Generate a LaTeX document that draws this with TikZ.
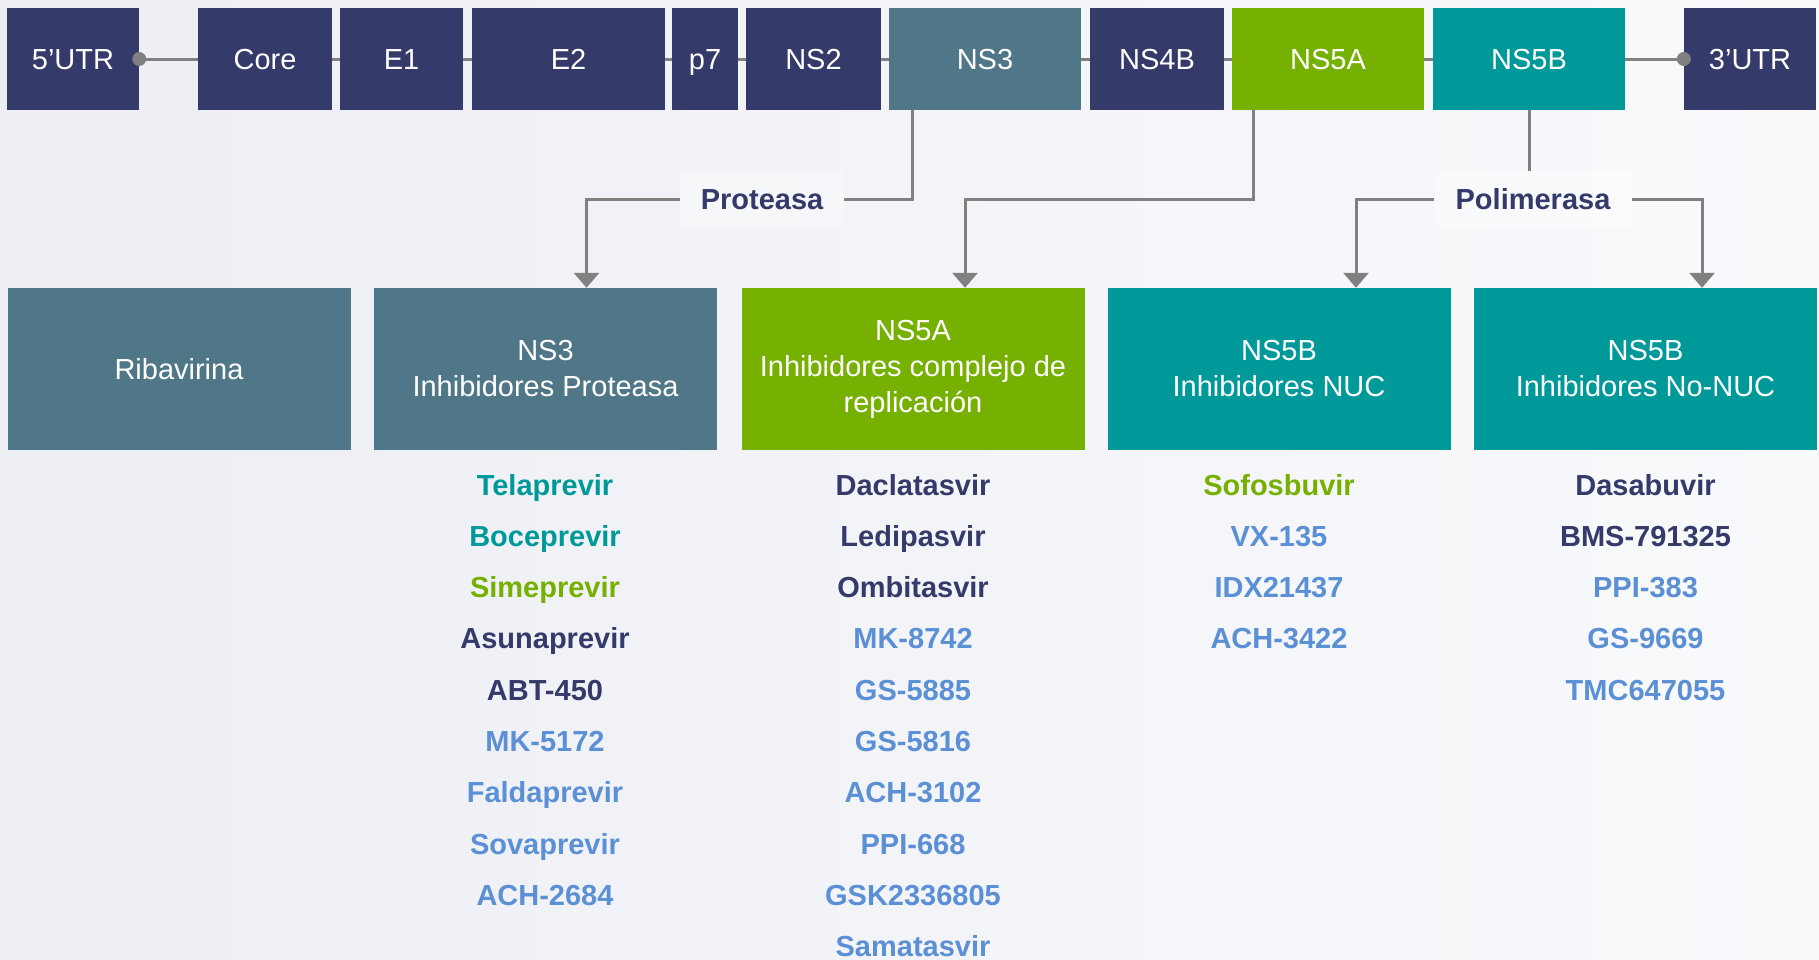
\documentclass[tikz,border=0pt]{standalone}
\usepackage{fontspec}
\setmainfont{Liberation Sans}
\usetikzlibrary{arrows.meta,backgrounds,positioning}
\definecolor{hcvnavy}{HTML}{343A69}
\definecolor{hcvslate}{HTML}{4F7788}
\definecolor{hcvgreen}{HTML}{76B000}
\definecolor{hcvteal}{HTML}{009999}
\definecolor{hcvblue}{HTML}{5B8FD6}
\definecolor{hcvgray}{HTML}{808080}
\definecolor{bgleft}{HTML}{EDEEF4}
\definecolor{bgright}{HTML}{F9FAFC}

\begin{document}
\begin{tikzpicture}[x=1pt, y=-1pt,
  gene/.style={fill=#1, text=white, minimum height=102pt, inner sep=0pt,
    text height=21pt, text depth=0pt, font=\fontsize{29}{35}\selectfont},
  class/.style={fill=#1, text=white, minimum width=343pt, minimum height=162pt,
    inner sep=0pt, align=center, font=\fontsize{29}{36}\selectfont},
  drug/.style={text=#1, anchor=base, inner sep=0pt, font=\fontsize{29}{35}\selectfont\bfseries},
  enzyme/.style={fill=white, fill opacity=0.35, text opacity=1, text=hcvnavy,
    minimum height=56pt, inner sep=0pt, text height=21pt, text depth=0pt,
    font=\fontsize{29}{35}\selectfont\bfseries},
  link/.style={draw=hcvgray, line width=3pt},
  arr/.style={-{Triangle[length=15pt,width=25pt]}, hcvgray}]
  \useasboundingbox (0,0) rectangle (1819,959);
  % genome
  \node[gene=hcvnavy,  minimum width=132pt] (utr5) at (73,59)     {5’UTR};
  \node[gene=hcvnavy,  minimum width=134pt] (core) at (265,59)    {Core};
  \node[gene=hcvnavy,  minimum width=123pt] (e1)   at (401.5,59)  {E1};
  \node[gene=hcvnavy,  minimum width=193pt] (e2)   at (568.5,59)  {E2};
  \node[gene=hcvnavy,  minimum width=66pt]  (p7)   at (705,59)    {p7};
  \node[gene=hcvnavy,  minimum width=135pt] (ns2)  at (813.5,59)  {NS2};
  \node[gene=hcvslate, minimum width=192pt] (ns3)  at (985,59)    {NS3};
  \node[gene=hcvnavy,  minimum width=134pt] (ns4b) at (1157,59)   {NS4B};
  \node[gene=hcvgreen, minimum width=192pt] (ns5a) at (1328,59)   {NS5A};
  \node[gene=hcvteal,  minimum width=192pt] (ns5b) at (1529,59)   {NS5B};
  \node[gene=hcvnavy,  minimum width=132pt] (utr3) at (1750,59)   {3’UTR};

  % drug classes
  \node[class=hcvslate] (riba)    at (179,369)    {Ribavirina};
  \node[class=hcvslate] (ns3inh)  at (545.5,369)  {NS3\\Inhibidores Proteasa};
  \node[class=hcvgreen] (ns5ainh) at (913,369)    {NS5A\\Inhibidores complejo de\\replicación};
  \node[class=hcvteal]  (nucinh)  at (1279,369)   {NS5B\\Inhibidores NUC};
  \node[class=hcvteal]  (noninh)  at (1645.5,369) {NS5B\\Inhibidores No-NUC};

  \node[enzyme, minimum width=164pt] (prot)  at (762,199)  {Proteasa};
  \node[enzyme, minimum width=197pt] (polim) at (1533,199) {Polimerasa};

  \begin{scope}[on background layer]
    \shade[left color=bgleft, right color=bgright] (0,0) rectangle (1819,959);
    \draw[link] (utr5.east) -- (utr3.west);
  \end{scope}
  \fill[hcvgray] (utr5.east) circle (7pt) (utr3.west) circle (7pt);

  \coordinate (out3)  at ([xshift=24pt]ns3.south west);
  \coordinate (out5a) at ([xshift=22pt]ns5a.south west);
  \coordinate (in3)   at ([xshift=41pt]ns3inh.north);
  \coordinate (in5a)  at ([xshift=52pt]ns5ainh.north);
  \coordinate (innuc) at ([xshift=77pt]nucinh.north);
  \coordinate (innon) at ([xshift=56.5pt]noninh.north);

  \draw[link] (out3) |- (prot.east);
  \draw[link,arr] (prot.west) -| (in3);
  \draw[link,arr] (out5a) |- (prot.center -| in5a) -- (in5a);
  \draw[link] (ns5b.south) -- (ns5b.south |- polim.north);
  \draw[link,arr] (polim.west) -| (innuc);
  \draw[link,arr] (polim.east) -| (innon);

  % drug lists
  \foreach \name/\col [count=\i] in {Telaprevir/hcvteal, Boceprevir/hcvteal,
      Simeprevir/hcvgreen, Asunaprevir/hcvnavy, ABT-450/hcvnavy, MK-5172/hcvblue,
      Faldaprevir/hcvblue, Sovaprevir/hcvblue, ACH-2684/hcvblue}
    \node[drug=\col] (pi-\i) at (545,{495+51.3*(\i-1)}) {\name};
  \foreach \name/\col [count=\i] in {Daclatasvir/hcvnavy, Ledipasvir/hcvnavy,
      Ombitasvir/hcvnavy, MK-8742/hcvblue, GS-5885/hcvblue, GS-5816/hcvblue,
      ACH-3102/hcvblue, PPI-668/hcvblue, GSK2336805/hcvblue, Samatasvir/hcvblue}
    \node[drug=\col] (ai-\i) at (913,{495+51.3*(\i-1)}) {\name};
  \foreach \name/\col [count=\i] in {Sofosbuvir/hcvgreen, VX-135/hcvblue,
      IDX21437/hcvblue, ACH-3422/hcvblue}
    \node[drug=\col] (ni-\i) at (1279,{495+51.3*(\i-1)}) {\name};
  \foreach \name/\col [count=\i] in {Dasabuvir/hcvnavy, BMS-791325/hcvnavy,
      PPI-383/hcvblue, GS-9669/hcvblue, TMC647055/hcvblue}
    \node[drug=\col] (nn-\i) at (1645.5,{495+51.3*(\i-1)}) {\name};
\end{tikzpicture}
\end{document}
